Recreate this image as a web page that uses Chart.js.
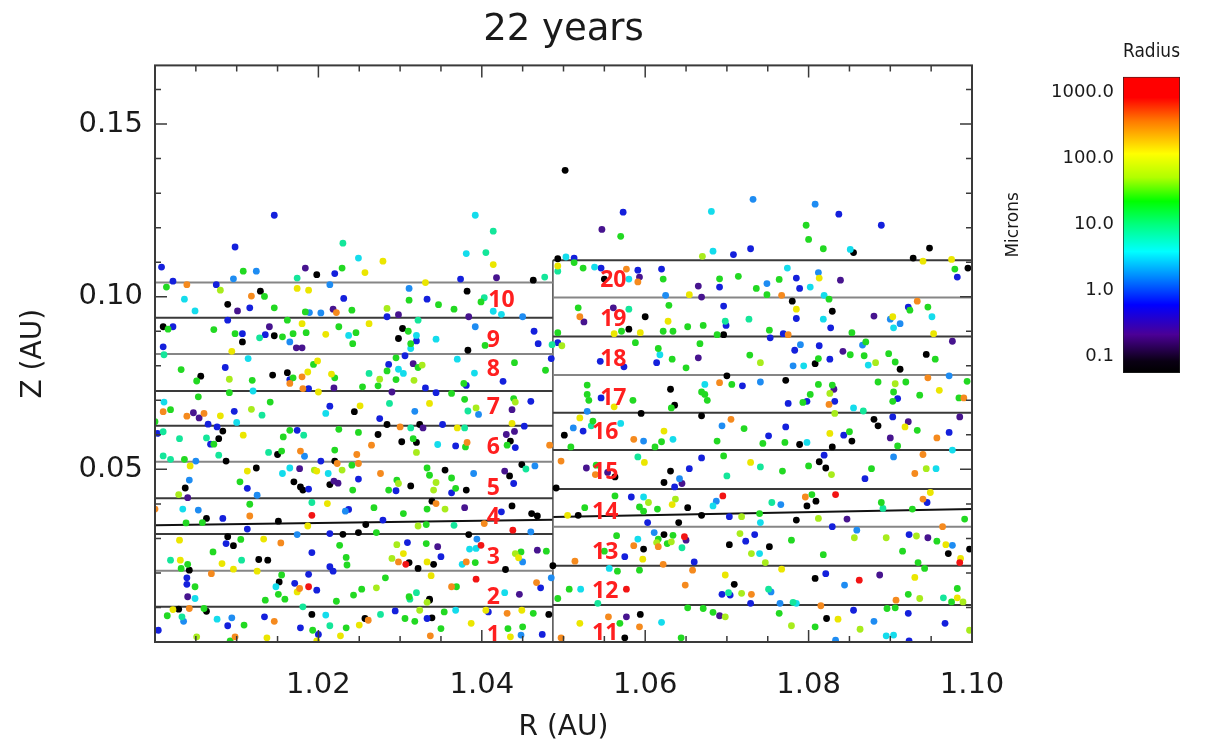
<!DOCTYPE html>
<html>
<head>
<meta charset="utf-8">
<title>22 years</title>
<script src="https://cdn.jsdelivr.net/npm/chart.js@4.4.1/dist/chart.umd.min.js"></script>
<style>
  html, body { margin: 0; padding: 0; background: #fff; }
  #wrap { position: relative; width: 1212px; height: 751px; overflow: hidden; }
  #zChart { position: absolute; left: 0; top: 0; }
  #radiusBar { position: absolute; left: 1000px; top: 0; }
</style>
</head>
<body>
<div id="wrap">
  <canvas id="zChart" width="1212" height="751"></canvas>
  <canvas id="radiusBar" width="212" height="400"></canvas>
</div>
<script>
// ============================================================
// Grain positions (R, Z in AU), grouped by radius colour class
// ============================================================
const grainsBlack = [
  [1.0198,0.1064],[1.0089,0.0978],[1.0129,0.1016],[1.0010,0.0913],[1.0107,0.0869],[1.0146,0.0887],[1.0303,0.0908],[1.0298,0.0879],[1.0056,0.0770],[1.0144,0.0773],[1.0162,0.0780],[1.0244,0.0667],[1.0284,0.0630],[1.0324,0.0630],[1.0078,0.0589],[1.0083,0.0611],[1.0273,0.0601],[1.0302,0.0580],[1.0320,0.0578],
  [1.0087,0.0524],[1.0150,0.0543],[1.0220,0.0524],[1.0037,0.0446],[1.0124,0.0504],[1.0170,0.0464],[1.0178,0.0449],[1.0181,0.0440],[1.0214,0.0456],[1.0313,0.0452],[1.0063,0.0358],[1.0151,0.0350],[1.0258,0.0340],[1.0230,0.0312],[1.0249,0.0317],[1.0089,0.0305],[1.0096,0.0279],[1.0042,0.0208],[1.0127,0.0239],[1.0138,0.0237],[1.0311,0.0230],[1.0322,0.0213],[1.0152,0.0174],[1.0336,0.0121],[1.0029,0.0095],[1.0063,0.0089],[1.0192,0.0080],[1.0257,0.0068],
  [1.0463,0.1048],[1.0493,0.1110],[1.0382,0.1016],[1.0383,0.0845],[1.0435,0.0582],[1.0550,0.1051],[1.0600,0.0942],[1.0580,0.0906],[1.0631,0.0732],[1.0636,0.0686],[1.0595,0.0662],[1.0501,0.0599],[1.0669,0.0655],
  [1.0355,0.0498],[1.0381,0.0440],[1.0434,0.0481],[1.0449,0.0514],[1.0339,0.0408],[1.0437,0.0394],[1.0461,0.0372],[1.0468,0.0365],[1.0384,0.0311],[1.0341,0.0225],[1.0429,0.0210],[1.0336,0.0124],[1.0339,0.0070],[1.0482,0.0080],[1.0563,0.0478],[1.0631,0.0495],[1.0623,0.0462],[1.0491,0.0446],[1.0652,0.0389],[1.0518,0.0367],[1.0641,0.0346],[1.0669,0.0367],[1.0623,0.0311],[1.0598,0.0269],[1.0487,0.0221],[1.0594,0.0080],[1.0575,0.0012],
  [1.0855,0.1128],[1.0948,0.1141],[1.0928,0.1112],[1.0995,0.1083],[1.0780,0.0987],[1.0696,0.0890],[1.0829,0.0958],[1.0808,0.0806],[1.0912,0.0790],[1.0944,0.0833],[1.0700,0.0771],[1.0772,0.0758],[1.0789,0.0572],[1.0853,0.0582],[1.0829,0.0565],[1.0880,0.0645],[1.0885,0.0626],
  [1.0813,0.0522],[1.0821,0.0504],[1.0798,0.0394],[1.0809,0.0408],[1.0785,0.0353],[1.0703,0.0282],[1.0752,0.0276],[1.0971,0.0256],[1.0997,0.0269],[1.0709,0.0167],[1.0808,0.0184],[1.0822,0.0068],
  [1.0502,0.1366]
];

const grainsPurple = [
  [1.0184,0.1083],[1.0101,0.0959],[1.0218,0.0964],[1.0298,0.0948],[1.0140,0.0913],[1.0173,0.0852],[1.0180,0.0852],[1.0219,0.0736],[1.0316,0.0806],[1.0290,0.0724],[1.0047,0.0664],[1.0054,0.0649],[1.0328,0.0620],
  [1.0177,0.0502],[1.0219,0.0466],[1.0224,0.0460],[1.0040,0.0418],[1.0040,0.0131],
  [1.0418,0.1055],[1.0384,0.0942],[1.0437,0.0673],[1.0430,0.0601],[1.0440,0.0610],[1.0593,0.1057],[1.0669,0.0999],[1.0665,0.1031],[1.0525,0.0927],[1.0561,0.0968],[1.0665,0.0823],
  [1.0428,0.0495],[1.0379,0.0389],[1.0346,0.0276],[1.0468,0.0266],[1.0446,0.0138],[1.0528,0.0504],[1.0554,0.0491],[1.0645,0.0459],[1.0650,0.0295],[1.0577,0.0073],
  [1.0839,0.1048],[1.0880,0.0944],[1.0842,0.0842],[1.0976,0.0871],[1.0831,0.0732],[1.0922,0.0638],[1.0900,0.0591],[1.0985,0.0652],
  [1.0847,0.0356],[1.0946,0.0302],[1.0887,0.0194],[1.0691,0.0076],
  [1.0547,0.1195]
];

const grainsBlue = [
  [1.0098,0.1144],[1.0008,0.1086],[1.0220,0.1067],[1.0022,0.1045],[1.0075,0.1035],[1.0116,0.0968],[1.0231,0.0995],[1.0284,0.0942],[1.0333,0.0993],[1.0022,0.0913],[1.0089,0.0932],[1.0107,0.0893],[1.0135,0.0890],[1.0320,0.0872],[1.0010,0.0855],[1.0086,0.0795],[1.0165,0.0760],[1.0188,0.0734],[1.0286,0.0804],[1.0306,0.0829],[1.0331,0.0736],[1.0097,0.0668],[1.0065,0.0631],[1.0076,0.0623],[1.0214,0.0683],[1.0275,0.0647],[1.0003,0.0604],[1.0068,0.0573],[1.0174,0.0613],
  [1.0203,0.0524],[1.0113,0.0445],[1.0188,0.0443],[1.0249,0.0472],[1.0295,0.0438],[1.0083,0.0358],[1.0237,0.0384],[1.0279,0.0353],[1.0113,0.0327],[1.0214,0.0314],[1.0087,0.0285],[1.0192,0.0259],[1.0214,0.0218],[1.0218,0.0205],[1.0309,0.0288],[1.0039,0.0186],[1.0039,0.0167],[1.0171,0.0170],[1.0198,0.0150],[1.0188,0.0196],[1.0004,0.0034],[1.0089,0.0047],[1.0134,0.0073],[1.0178,0.0041],[1.0200,0.0022],[1.0294,0.0090],[1.0333,0.0068],
  [1.0374,0.1051],[1.0513,0.1112],[1.0464,0.0900],[1.0469,0.0864],[1.0381,0.0743],[1.0426,0.0755],[1.0344,0.0722],[1.0485,0.0821],[1.0460,0.0697],[1.0452,0.0625],[1.0352,0.0630],[1.0368,0.0568],[1.0441,0.0563],[1.0546,0.1083],[1.0591,0.1077],[1.0620,0.1080],[1.0493,0.0867],[1.0614,0.0809],[1.0545,0.0813],[1.0574,0.0797],[1.0546,0.0707],[1.0524,0.0611],
  [1.0363,0.0432],[1.0439,0.0459],[1.0424,0.0377],[1.0350,0.0247],[1.0472,0.0157],[1.0408,0.0087],[1.0474,0.0022],[1.0654,0.0502],[1.0636,0.0449],[1.0669,0.0533],[1.0583,0.0420],[1.0603,0.0346],[1.0575,0.0247],[1.0660,0.0232],
  [1.0708,0.1122],[1.0729,0.1139],[1.0691,0.1028],[1.0785,0.1054],[1.0789,0.1024],[1.0982,0.1057],[1.0785,0.0937],[1.0696,0.0973],[1.0699,0.0917],[1.0769,0.0893],[1.0827,0.0910],[1.0922,0.0970],[1.0753,0.0881],[1.0783,0.0845],[1.0813,0.0858],[1.0826,0.0819],[1.0719,0.0742],[1.0775,0.0691],[1.0798,0.0697],[1.0832,0.0697],[1.0909,0.0705],[1.0772,0.0623],[1.0751,0.0597],[1.0843,0.0599],[1.0903,0.0652],[1.0972,0.0607],
  [1.0819,0.0541],[1.0869,0.0473],[1.0945,0.0404],[1.0703,0.0363],[1.0734,0.0311],[1.0723,0.0292],[1.0829,0.0334],[1.0923,0.0311],[1.0694,0.0138],[1.0704,0.0136],[1.0729,0.0112],[1.0821,0.0198],[1.0855,0.0092],[1.0922,0.0083],[1.0923,0.0003],[1.0967,0.0054],
  [1.0146,0.1236],[1.0573,0.1245],[1.0837,0.1239],[1.0889,0.1207]
];

const grainsSky = [
  [1.0124,0.1074],[1.0096,0.1052],[1.0214,0.1035],[1.0189,0.0954],[1.0203,0.0953],[1.0311,0.1024],[1.0165,0.0869],[1.0318,0.0668],
  [1.0050,0.0524],[1.0183,0.0538],[1.0042,0.0469],[1.0125,0.0425],[1.0053,0.0382],[1.0233,0.0379],[1.0174,0.0311],[1.0035,0.0060],[1.0094,0.0070],
  [1.0450,0.0942],[1.0392,0.0913],[1.0396,0.0659],[1.0625,0.1004],[1.0529,0.0668],[1.0512,0.0620],[1.0598,0.0582],
  [1.0390,0.0488],[1.0465,0.0510],[1.0460,0.0319],[1.0394,0.0298],[1.0450,0.0232],[1.0485,0.0186],[1.0448,0.0020],[1.0642,0.0473],[1.0611,0.0317],
  [1.0749,0.1038],[1.0812,0.1070],[1.0900,0.0935],[1.0912,0.0922],[1.0790,0.0861],[1.0781,0.0800],[1.0866,0.0860],[1.0741,0.0753],[1.0972,0.0771],[1.0694,0.0626],
  [1.0904,0.0536],[1.0687,0.0408],[1.0766,0.0398],[1.0859,0.0324],[1.0976,0.0280],[1.0754,0.0145],[1.0765,0.0112],[1.0844,0.0165],[1.0880,0.0060],[1.0833,0.0005],
  [1.0732,0.1282],[1.0808,0.1268]
];

const grainsCyan = [
  [1.0249,0.1112],[1.0036,0.0993],[1.0049,0.0959],[1.0237,0.0888],[1.0320,0.0888],[1.0313,0.0850],[1.0114,0.0821],[1.0298,0.0790],[1.0304,0.0778],[1.0011,0.0695],[1.0120,0.0727],[1.0100,0.0636],[1.0209,0.0662],
  [1.0156,0.0488],[1.0165,0.0504],[1.0212,0.0488],[1.0034,0.0385],[1.0049,0.0126],[1.0148,0.0160],[1.0076,0.0066],[1.0209,0.0078],
  [1.0381,0.1125],[1.0503,0.1115],[1.0414,0.0958],[1.0424,0.0949],[1.0344,0.0877],[1.0370,0.0819],[1.0391,0.0779],[1.0346,0.0572],[1.0538,0.1086],[1.0580,0.1051],[1.0618,0.0832],[1.0570,0.0633],[1.0634,0.0587],
  [1.0385,0.0269],[1.0393,0.0271],[1.0376,0.0225],[1.0428,0.0143],[1.0368,0.0092],[1.0598,0.0420],[1.0591,0.0298],[1.0556,0.0213],[1.0521,0.0153],[1.0620,0.0057],
  [1.0683,0.1132],[1.0851,0.1137],[1.0774,0.1083],[1.0802,0.1028],[1.0819,0.1004],[1.0818,0.0935],[1.0904,0.0910],[1.0951,0.0942],[1.0794,0.0800],[1.0873,0.0802],[1.0673,0.0746],[1.0855,0.0678],[1.0798,0.0578],
  [1.0956,0.0502],[1.0976,0.0556],[1.0683,0.0394],[1.0741,0.0346],[1.0740,0.0256],[1.0785,0.0112],[1.0895,0.0018],[1.0904,0.0020],
  [1.0392,0.1236],[1.0681,0.1247]
];

const grainsAqua = [
  [1.0174,0.1054],[1.0128,0.0881],[1.0322,0.0932],[1.0011,0.0832],[1.0262,0.0778],[1.0131,0.0657],[1.0287,0.0691],[1.0313,0.0620],[1.0010,0.0609],[1.0030,0.0589],[1.0063,0.0591],[1.0182,0.0599],
  [1.0010,0.0539],[1.0019,0.0529],[1.0078,0.0541],[1.0139,0.0549],[1.0192,0.0404],[1.0019,0.0237],[1.0106,0.0237],[1.0320,0.0143],[1.0312,0.0124],[1.0033,0.0073],[1.0181,0.0102],[1.0214,0.0047],[1.0276,0.0080],
  [1.0405,0.1128],[1.0477,0.1057],[1.0403,0.0997],[1.0486,0.0861],[1.0383,0.0669],[1.0379,0.0620],[1.0493,0.1074],[1.0580,0.0964],[1.0534,0.0626],
  [1.0454,0.0501],[1.0366,0.0338],[1.0591,0.0536],[1.0645,0.0273],[1.0542,0.0112],
  [1.0698,0.0929],[1.0727,0.0935],[1.0867,0.0669],
  [1.0700,0.0481],[1.0741,0.0507],[1.0755,0.0404],[1.0891,0.0387],[1.0702,0.0143],[1.0751,0.0153],[1.0965,0.0128],[1.0781,0.0115],
  [1.0230,0.1155],[1.0414,0.1190]
];

const grainsGreen = [
  [1.0229,0.1083],[1.0108,0.1074],[1.0014,0.1028],[1.0134,0.1001],[1.0146,0.0968],[1.0241,0.0961],[1.0184,0.0956],[1.0311,0.0990],[1.0016,0.0906],[1.0072,0.0905],[1.0098,0.0893],[1.0156,0.0884],[1.0162,0.0932],[1.0169,0.0893],[1.0185,0.0896],[1.0225,0.0913],[1.0242,0.0864],[1.0246,0.0896],[1.0310,0.0900],[1.0313,0.0864],
  [1.0032,0.0789],[1.0051,0.0756],[1.0119,0.0758],[1.0169,0.0765],[1.0194,0.0804],[1.0220,0.0765],[1.0254,0.0739],[1.0273,0.0742],[1.0284,0.0785],[1.0295,0.0823],[1.0295,0.0760],[1.0322,0.0795],[1.0019,0.0673],[1.0053,0.0710],[1.0091,0.0722],[1.0141,0.0695],[1.0000,0.0638],[1.0072,0.0573],[1.0157,0.0594],[1.0165,0.0613],[1.0225,0.0616],[1.0249,0.0607],[1.0316,0.0589],
  [1.0036,0.0529],[1.0155,0.0553],[1.0220,0.0556],[1.0241,0.0512],[1.0104,0.0464],[1.0242,0.0440],[1.0296,0.0469],[1.0286,0.0440],[1.0333,0.0504],[1.0058,0.0346],[1.0116,0.0399],[1.0268,0.0389],[1.0304,0.0372],[1.0333,0.0385],[1.0038,0.0345],[1.0271,0.0317],[1.0332,0.0340],[1.0105,0.0297],[1.0071,0.0261],[1.0040,0.0225],[1.0032,0.0213],[1.0226,0.0280],[1.0234,0.0245],[1.0235,0.0223],[1.0332,0.0285],
  [1.0049,0.0160],[1.0155,0.0194],[1.0151,0.0138],[1.0159,0.0124],[1.0135,0.0121],[1.0222,0.0118],[1.0243,0.0136],[1.0253,0.0153],[1.0282,0.0186],[1.0311,0.0131],[1.0060,0.0097],[1.0015,0.0076],[1.0109,0.0049],[1.0193,0.0034],[1.0234,0.0041],[1.0306,0.0068],[1.0318,0.0060],[1.0092,0.0003],
  [1.0347,0.0977],[1.0366,0.0964],[1.0399,0.0985],[1.0404,0.0859],[1.0440,0.0809],[1.0478,0.0787],[1.0378,0.0749],[1.0363,0.0720],[1.0379,0.0703],[1.0439,0.0705],[1.0380,0.0565],[1.0431,0.0570],[1.0513,0.1099],[1.0524,0.1083],[1.0622,0.1051],[1.0518,0.0968],[1.0571,0.0900],[1.0629,0.0975],[1.0622,0.0900],[1.0634,0.0900],[1.0652,0.0913],[1.0671,0.0917],[1.0493,0.0896],[1.0588,0.0867],[1.0616,0.0850],[1.0633,0.0819],[1.0650,0.0794],[1.0667,0.0864],[1.0529,0.0744],[1.0529,0.0717],[1.0531,0.0700],[1.0585,0.0700],[1.0632,0.0678],[1.0669,0.0724],[1.0536,0.0640],[1.0620,0.0580],[1.0509,0.0565],[1.0612,0.0565],
  [1.0336,0.0483],[1.0363,0.0475],[1.0368,0.0445],[1.0392,0.0230],[1.0448,0.0261],[1.0479,0.0263],[1.0369,0.0160],[1.0354,0.0087],[1.0463,0.0083],[1.0350,0.0039],[1.0432,0.0039],[1.0450,0.0044],[1.0540,0.0512],[1.0563,0.0423],[1.0593,0.0391],[1.0598,0.0379],[1.0615,0.0385],[1.0526,0.0389],[1.0565,0.0308],[1.0616,0.0298],[1.0634,0.0309],[1.0627,0.0285],[1.0550,0.0263],[1.0566,0.0205],[1.0593,0.0208],[1.0493,0.0126],[1.0507,0.0153],[1.0652,0.0099],[1.0671,0.0097],[1.0569,0.0054],[1.0644,0.0012],
  [1.0818,0.1139],[1.0691,0.1052],[1.0714,0.1059],[1.0736,0.1024],[1.0749,0.1006],[1.0764,0.1050],[1.0979,0.1080],[1.0752,0.0903],[1.0688,0.0890],[1.0853,0.0896],[1.0924,0.0961],[1.0946,0.0970],[1.0825,0.0993],[1.0728,0.0831],[1.0812,0.0821],[1.0851,0.0832],[1.0868,0.0829],[1.0870,0.0869],[1.0898,0.0835],[1.0906,0.0811],[1.0955,0.0819],
  [1.0706,0.0746],[1.0673,0.0717],[1.0676,0.0700],[1.0793,0.0694],[1.0802,0.0717],[1.0812,0.0746],[1.0829,0.0744],[1.0885,0.0753],[1.0904,0.0724],[1.0903,0.0697],[1.0919,0.0753],[1.0936,0.0715],[1.0984,0.0707],[1.0994,0.0755],[1.0721,0.0618],[1.0744,0.0575],[1.0771,0.0578],[1.0850,0.0609],[1.0933,0.0613],[1.0909,0.0568],[1.0688,0.0582],
  [1.0696,0.0539],[1.0768,0.0495],[1.0800,0.0510],[1.0877,0.0502],[1.0804,0.0427],[1.0889,0.0404],[1.0927,0.0385],[1.0991,0.0356],[1.0740,0.0372],[1.0779,0.0295],[1.0818,0.0253],[1.0915,0.0263],[1.0934,0.0230],[1.0942,0.0213],[1.0957,0.0292],[1.0922,0.0138],[1.0982,0.0155],[1.0975,0.0116],[1.0906,0.0099],[1.0683,0.0086],[1.0764,0.0083],[1.0896,0.0097],[1.0808,0.0044],
  [1.0570,0.1175],[1.0797,0.1207],[1.0800,0.1166]
];

const grainsLime = [
  [1.0080,0.1019],[1.0284,0.0966],[1.0091,0.0761],[1.0275,0.0761],[1.0327,0.0802],[1.0317,0.0758],[1.0118,0.0674],
  [1.0320,0.0549],[1.0195,0.0498],[1.0229,0.0498],[1.0298,0.0459],[1.0029,0.0427],[1.0322,0.0336],[1.0290,0.0242],[1.0296,0.0282],[1.0271,0.0157],[1.0333,0.0115],[1.0324,0.0092],[1.0051,0.0015],
  [1.0393,0.0678],[1.0441,0.0695],[1.0498,0.0858],
  [1.0344,0.0462],[1.0341,0.0440],[1.0355,0.0385],[1.0441,0.0256],[1.0604,0.0404],[1.0637,0.0414],[1.0614,0.0288],[1.0632,0.0290],
  [1.0741,0.0809],[1.0882,0.0809],[1.0826,0.0720],[1.0906,0.0748],[1.0832,0.0662],
  [1.0828,0.0485],[1.0944,0.0502],[1.0718,0.0363],[1.0812,0.0358],[1.0716,0.0314],[1.0730,0.0256],[1.0747,0.0230],[1.0856,0.0302],[1.0895,0.0302],[1.0932,0.0307],[1.0718,0.0141],[1.0936,0.0126],[1.0989,0.0116],[1.0698,0.0073],[1.0779,0.0047],[1.0863,0.0037],[1.0997,0.0034],
  [1.0670,0.1117]
];

const grainsYellow = [
  [1.0279,0.1103],[1.0257,0.1070],[1.0174,0.1024],[1.0188,0.1019],[1.0331,0.1041],[1.0180,0.0922],[1.0209,0.0891],[1.0262,0.0922],[1.0094,0.0842],[1.0187,0.0782],[1.0199,0.0814],[1.0216,0.0776],[1.0200,0.0724],[1.0080,0.0655],[1.0251,0.0684],[1.0108,0.0599],
  [1.0043,0.0510],[1.0113,0.0495],[1.0198,0.0495],[1.0211,0.0401],[1.0187,0.0336],[1.0030,0.0295],[1.0133,0.0298],[1.0031,0.0237],[1.0082,0.0227],[1.0096,0.0211],[1.0304,0.0256],[1.0333,0.0232],[1.0125,0.0205],[1.0174,0.0145],[1.0022,0.0094],[1.0250,0.0049],[1.0137,0.0012],[1.0198,0.0003],[1.0227,0.0018],
  [1.0414,0.1093],[1.0336,0.0691],[1.0437,0.0633],[1.0370,0.0620],[1.0493,0.1089],[1.0654,0.1006],[1.0562,0.0893],[1.0594,0.0896],[1.0628,0.0929],[1.0562,0.0681],[1.0520,0.0649],[1.0623,0.0611],
  [1.0445,0.0244],[1.0338,0.0192],[1.0405,0.0092],[1.0449,0.0092],[1.0387,0.0054],[1.0435,0.0015],[1.0599,0.0520],[1.0633,0.0398],[1.0505,0.0367],[1.0597,0.0240],[1.0520,0.0054],
  [1.0940,0.1103],[1.0975,0.1108],[1.0813,0.1054],[1.0785,0.0964],[1.0903,0.0942],[1.0953,0.0893],[1.0960,0.0729],[1.0826,0.0604],[1.0918,0.0623],
  [1.0729,0.0520],[1.0949,0.0433],[1.0968,0.0282],[1.0986,0.0242],[1.0767,0.0211],[1.0698,0.0194],[1.0930,0.0187],[1.0982,0.0128],[1.0836,0.0066]
];

const grainsOrange = [
  [1.0039,0.1035],[1.0118,0.1002],[1.0222,0.0954],[1.0180,0.0768],[1.0165,0.0749],[1.0181,0.0734],[1.0010,0.0667],[1.0039,0.0654],[1.0060,0.0662],[1.0300,0.0623],[1.0265,0.0570],
  [1.0178,0.0553],[1.0247,0.0543],[1.0223,0.0517],[1.0249,0.0517],[1.0276,0.0488],[1.0000,0.0385],[1.0116,0.0365],[1.0154,0.0287],[1.0298,0.0232],[1.0069,0.0198],[1.0177,0.0155],[1.0042,0.0097],[1.0261,0.0063],[1.0146,0.0060],[1.0098,0.0015],
  [1.0382,0.0578],[1.0483,0.0570],[1.0577,0.1080],[1.0591,0.1043],[1.0520,0.0942],[1.0586,0.0587],
  [1.0344,0.0401],[1.0403,0.0343],[1.0381,0.0232],[1.0363,0.0160],[1.0467,0.0172],[1.0431,0.0083],[1.0337,0.0018],[1.0497,0.0524],[1.0539,0.0485],[1.0586,0.0279],[1.0616,0.0276],[1.0514,0.0234],[1.0622,0.0225],[1.0658,0.0208],[1.0649,0.0165],[1.0555,0.0073],[1.0593,0.0044],[1.0497,0.0012],
  [1.0767,0.1004],[1.0933,0.0987],[1.0775,0.0890],[1.0691,0.0751],[1.0825,0.0688],[1.0946,0.0765],[1.0990,0.0707],[1.0705,0.0645],[1.0957,0.0591],
  [1.0930,0.0488],[1.0940,0.0543],[1.0796,0.0420],[1.0940,0.0414],[1.0964,0.0334],[1.0730,0.0138],[1.0907,0.0121],[1.0815,0.0105]
];

const grainsRed = [
  [1.0192,0.0367],[1.0307,0.0225],[1.0188,0.0160],
  [1.0438,0.0324],[1.0399,0.0280],[1.0393,0.0182],[1.0648,0.0305],[1.0577,0.0153],
  [1.0695,0.0423],[1.0833,0.0427],[1.0985,0.0230],[1.0862,0.0179]
];

// ============================================================
// Annulus geometry: boundary heights for the two radial sections
// ============================================================
const splitR = 1.0487;
const leftBandZ = [0.1041, 0.0939, 0.0834, 0.0727, 0.0626, 0.0522, 0.0416, 0.0313, 0.0206, 0.0102];
const rightBandZ = [0.1106, 0.0998, 0.0885, 0.0773, 0.0664, 0.0556, 0.0443, 0.0334, 0.0221, 0.0107];
const leftMidplane = [[1.0000, 0.0338], [1.0487, 0.0354]];
const rightMidplane = [[1.0487, 0.0362], [1.1000, 0.0385]];

// Cell numbers and where they sit
const cellIds = [1, 2, 3, 4, 5, 6, 7, 8, 9, 10, 11, 12, 13, 14, 15, 16, 17, 18, 19, 20];
const cellLabelR = [1.0414, 1.0414, 1.0414, 1.0414, 1.0414, 1.0414, 1.0414, 1.0414, 1.0414, 1.0424,
                    1.0551, 1.0551, 1.0551, 1.0551, 1.0551, 1.0551, 1.0561, 1.0561, 1.0561, 1.0561];
const cellLabelZ = [0.0020, 0.0130, 0.0246, 0.0362, 0.0446, 0.0564, 0.0680, 0.0790, 0.0874, 0.0990,
                    0.0026, 0.0145, 0.0258, 0.0376, 0.0492, 0.0608, 0.0706, 0.0819, 0.0935, 0.1048];

// Axis ticks
const rTicks = [1.02, 1.04, 1.06, 1.08, 1.10];
const zTicks = [0.05, 0.10, 0.15];
const radiusTicks = [0.1, 1, 10, 100, 1000];
const radiusTickLabels = ['0.1', '1.0', '10.0', '100.0', '1000.0'];

// ============================================================
// Styles
// ============================================================
const FONT = 'DejaVu Sans';
const TEXT = '#1a1a1a';
const AXIS = '#3a3a3a';
const LINE_DARK = '#3a3a3a';
const LINE_LIGHT = '#868686';
const leftTone = ['l', 'd', 'l', 'd', 'd', 'l', 'd', 'd', 'l', 'd'];
const rightTone = ['d', 'l', 'd', 'l', 'd', 'd', 'd', 'l', 'd', 'd'];

const grainSets = [
  { name: 'red',    pts: grainsRed,    color: '#f21414' },
  { name: 'orange', pts: grainsOrange, color: '#f58a1e' },
  { name: 'yellow', pts: grainsYellow, color: '#ebe600' },
  { name: 'lime',   pts: grainsLime,   color: '#a8ec1c' },
  { name: 'green',  pts: grainsGreen,  color: '#22d922' },
  { name: 'aqua',   pts: grainsAqua,   color: '#14e69a' },
  { name: 'cyan',   pts: grainsCyan,   color: '#14dcec' },
  { name: 'sky',    pts: grainsSky,    color: '#1e8cf2' },
  { name: 'blue',   pts: grainsBlue,   color: '#1420dc' },
  { name: 'purple', pts: grainsPurple, color: '#47148f' },
  { name: 'black',  pts: grainsBlack,  color: '#000000' }
];

const RAINBOW = [
  [0.00, '#ff0000'], [0.07, '#ff0000'], [0.15, '#ff7a00'], [0.26, '#ffff00'],
  [0.34, '#b0ff00'], [0.42, '#00ff00'], [0.50, '#00ff80'], [0.59, '#00ffff'],
  [0.67, '#0090ff'], [0.77, '#0000ff'], [0.87, '#4b0096'], [0.96, '#0a0014'], [1.00, '#000000']
];

const toXY = (pairs) => pairs.map(([x, y]) => ({ x, y }));

function boundary(points, color, width) {
  return {
    type: 'scatter',
    data: toXY(points),
    showLine: true,
    borderColor: color,
    borderWidth: width,
    pointRadius: 0,
    order: 1
  };
}

/* ============================================================
   Datasets: grains on top, cell boundaries underneath
============================================================ */
const datasets = grainSets.map((s) => ({
  label: s.name,
  data: toXY(s.pts),
  backgroundColor: s.color,
  borderWidth: 0,
  pointRadius: 3.4,
  order: 0
}));

leftBandZ.forEach((z, i) => {
  datasets.push(boundary([[1.0, z], [splitR, z]], leftTone[i] === 'd' ? LINE_DARK : LINE_LIGHT, 2));
});
rightBandZ.forEach((z, i) => {
  datasets.push(boundary([[splitR, z], [1.1, z]], rightTone[i] === 'd' ? LINE_DARK : LINE_LIGHT, 2));
});
datasets.push(boundary([[splitR, 0], [splitR, rightBandZ[0]]], '#555555', 1.6));
datasets.push(boundary(leftMidplane, '#111111', 2));
datasets.push(boundary(rightMidplane, '#111111', 2));

/* ============================================================
   Plugins: inward tick marks + frame, red cell numbers
============================================================ */
const frameTicks = {
  id: 'frameTicks',
  afterDraw(chart) {
    const { ctx, chartArea: a, scales: { x, y } } = chart;
    ctx.save();
    ctx.strokeStyle = AXIS;
    ctx.lineWidth = 1.5;
    ctx.beginPath();
    for (let i = 0; i <= 20; i++) {
      const px = x.getPixelForValue(1.0 + i * 0.005);
      const len = i % 4 === 0 ? 12 : 6;
      ctx.moveTo(px, a.bottom); ctx.lineTo(px, a.bottom - len);
      ctx.moveTo(px, a.top); ctx.lineTo(px, a.top + len);
    }
    for (let i = 0; i <= 16; i++) {
      const py = y.getPixelForValue(i * 0.01);
      const len = i % 5 === 0 ? 12 : 6;
      ctx.moveTo(a.left, py); ctx.lineTo(a.left + len, py);
      ctx.moveTo(a.right, py); ctx.lineTo(a.right - len, py);
    }
    ctx.stroke();
    ctx.lineWidth = 2;
    ctx.strokeRect(a.left, a.top, a.right - a.left, a.bottom - a.top);
    ctx.restore();
  }
};

const cellNumbers = {
  id: 'cellNumbers',
  afterDatasetsDraw(chart) {
    const { ctx, scales: { x, y } } = chart;
    ctx.save();
    ctx.font = 'bold 23px "Open Sans", "Noto Sans", sans-serif';
    ctx.fillStyle = '#ff1f1f';
    ctx.textAlign = 'center';
    ctx.textBaseline = 'middle';
    cellIds.forEach((id, i) => {
      ctx.fillText(String(id), x.getPixelForValue(cellLabelR[i]), y.getPixelForValue(cellLabelZ[i]));
    });
    ctx.restore();
  }
};

/* ============================================================
   Main R–Z scatter
============================================================ */
new Chart(document.getElementById('zChart'), {
  type: 'scatter',
  data: { datasets },
  options: {
    responsive: false,
    devicePixelRatio: 1,
    animation: false,
    layout: { padding: { left: 0, right: 240, top: 0, bottom: 0 } },
    plugins: {
      legend: { display: false },
      tooltip: { enabled: false },
      title: {
        display: true,
        text: '22 years',
        fullSize: false,
        color: TEXT,
        font: { family: FONT, size: 37, weight: 'normal' },
        padding: { top: 8, bottom: 13 }
      }
    },
    scales: {
      x: {
        type: 'linear',
        min: 1.0,
        max: 1.1,
        afterFit: (s) => { s.height = 109; },
        afterBuildTicks: (s) => { s.ticks = rTicks.map((v) => ({ value: v })); },
        ticks: {
          color: TEXT,
          font: { family: FONT, size: 29 },
          padding: 26,
          maxRotation: 0,
          autoSkip: false,
          callback: (v) => Number(v).toFixed(2)
        },
        grid: { display: false, drawTicks: false },
        border: { display: false },
        title: {
          display: true,
          text: 'R (AU)',
          color: TEXT,
          font: { family: FONT, size: 28 },
          padding: { top: 0, bottom: 6 }
        }
      },
      y: {
        type: 'linear',
        min: 0,
        max: 0.167,
        afterFit: (s) => { s.width = 155; },
        afterBuildTicks: (s) => { s.ticks = zTicks.map((v) => ({ value: v })); },
        ticks: {
          color: TEXT,
          font: { family: FONT, size: 29 },
          padding: 12,
          autoSkip: false,
          callback: (v) => Number(v).toFixed(2)
        },
        grid: { display: false, drawTicks: false },
        border: { display: false },
        title: {
          display: true,
          text: 'Z (AU)',
          color: TEXT,
          font: { family: FONT, size: 28 },
          padding: { top: 17, bottom: 0 }
        }
      }
    }
  },
  plugins: [cellNumbers, frameTicks]
});

/* ============================================================
   Radius colour bar (log scale, microns)
============================================================ */
const CBAR_MIN = 0.0556;
const CBAR_MAX = 1698;

function rainbowFill(chart) {
  const area = chart.chartArea;
  if (!area) return '#888888';
  const g = chart.ctx.createLinearGradient(0, area.top, 0, area.bottom);
  RAINBOW.forEach(([t, c]) => g.addColorStop(t, c));
  return g;
}

new Chart(document.getElementById('radiusBar'), {
  type: 'bar',
  data: {
    labels: [''],
    datasets: [{
      data: [[CBAR_MIN, CBAR_MAX]],
      backgroundColor: (ctx) => rainbowFill(ctx.chart),
      borderColor: '#222222',
      borderWidth: 1,
      borderSkipped: false,
      barPercentage: 1,
      categoryPercentage: 1
    }]
  },
  options: {
    responsive: false,
    devicePixelRatio: 1,
    animation: false,
    layout: { padding: { left: 0, right: 32, top: 0, bottom: 27 } },
    plugins: {
      legend: { display: false },
      tooltip: { enabled: false },
      title: {
        display: true,
        text: 'Radius',
        fullSize: false,
        color: TEXT,
        font: { family: FONT, size: 19, weight: 'normal' },
        padding: { top: 41, bottom: 13 }
      }
    },
    scales: {
      x: { display: false },
      y: {
        type: 'logarithmic',
        min: CBAR_MIN,
        max: CBAR_MAX,
        afterFit: (s) => { s.width = 123; },
        afterBuildTicks: (s) => { s.ticks = radiusTicks.map((v) => ({ value: v })); },
        ticks: {
          color: TEXT,
          font: { family: FONT, size: 18 },
          padding: 9,
          autoSkip: false,
          callback: (v, i) => radiusTickLabels[i]
        },
        grid: { display: false, drawTicks: false },
        border: { display: false },
        title: {
          display: true,
          text: 'Microns',
          color: TEXT,
          font: { family: FONT, size: 17 },
          padding: { top: 3, bottom: 0 }
        }
      }
    }
  }
});
</script>
</body>
</html>
